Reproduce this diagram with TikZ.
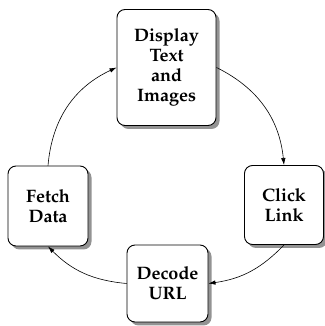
\documentclass[tikz,border=0pt]{standalone}
\usepackage[T1]{fontenc}
\usepackage{mathpazo}
\usetikzlibrary{shadows,arrows.meta}
\tikzset{
  stepbox/.style={draw=black, line width=0.9pt, rounded corners=8pt, fill=white,
    align=center, font=\fontsize{18}{20}\selectfont\bfseries, inner sep=0pt,
    drop shadow={shadow xshift=3.5pt, shadow yshift=-3.5pt, fill=black!50, opacity=0.85}},
  link/.style={draw=black, line width=0.6pt, -{Latex[length=7pt,width=4.5pt]}}
}
\begin{document}
\begin{tikzpicture}[x=1pt,y=1pt]
\useasboundingbox (0,0) rectangle (324,326);
\node[stepbox, minimum width=99pt, minimum height=116pt] (disp) at (166.5,258.5) {Display\\Text\\and\\Images};
\node[stepbox, minimum width=79pt, minimum height=79pt] (click) at (284,121) {Click\\Link};
\node[stepbox, minimum width=81pt, minimum height=77pt] (dec) at (167.5,42.5) {Decode\\URL};
\node[stepbox, minimum width=80pt, minimum height=80pt] (fetch) at (48,120) {Fetch\\Data};
\draw[link] (disp.east) to[bend left=29] (click.north);
\draw[link] (click.south) to[bend left=19] (dec.east);
\draw[link] (dec.west) to[bend left=20] (fetch.south);
\draw[link] (fetch.north) to[bend left=30] (disp.west);
\end{tikzpicture}
\end{document}
